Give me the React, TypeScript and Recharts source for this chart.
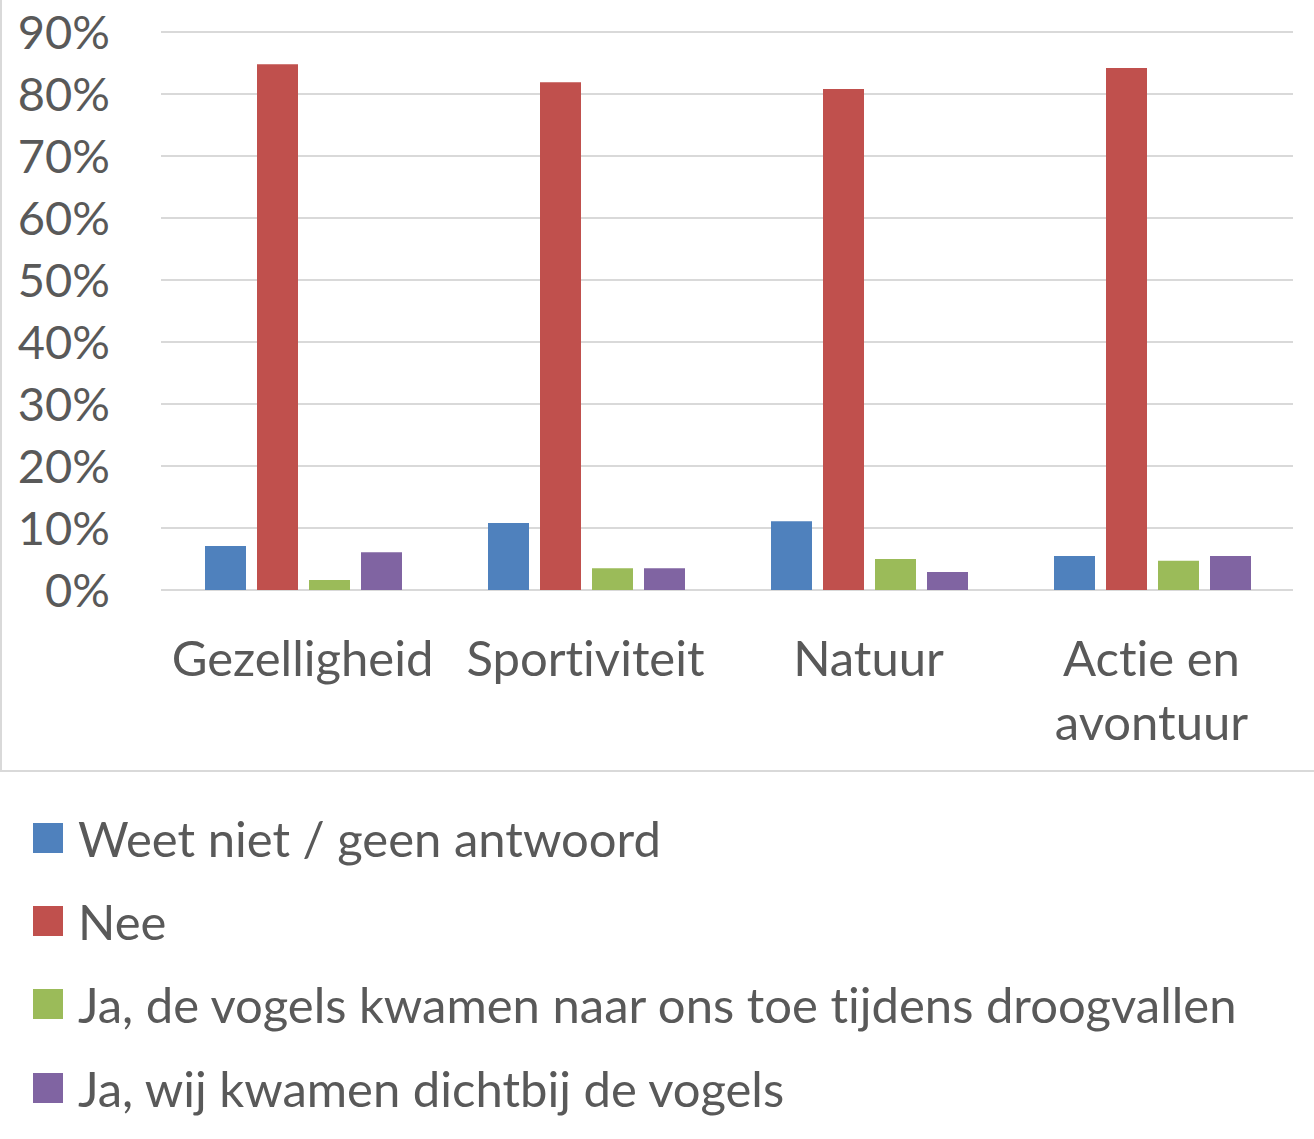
import { Bar, BarChart, CartesianGrid, Legend, XAxis, YAxis } from 'recharts'

const categories = ['Gezelligheid', 'Sportiviteit', 'Natuur', 'Actie en avontuur']

const seriesNames = [
  'Weet niet / geen antwoord',
  'Nee',
  'Ja, de vogels kwamen naar ons toe tijdens droogvallen',
  'Ja, wij kwamen dichtbij de vogels',
]

// percentages per category
const weetNiet = [7.1, 10.8, 11.1, 5.5]
const nee = [84.8, 81.9, 80.8, 84.2]
const jaVogelsKwamen = [1.6, 3.5, 5.0, 4.7]
const jaWijKwamen = [6.1, 3.5, 2.9, 5.5]

const yTicks = [0, 10, 20, 30, 40, 50, 60, 70, 80, 90]

const seriesColors = ['#4f81bd', '#c0504d', '#9bbb59', '#8064a2']
const seriesKeys = ['weetNiet', 'nee', 'jaVogelsKwamen', 'jaWijKwamen']

const textColor = '#595959'
const gridColor = '#d9d9d9'
const fontFamily = 'Lato, "Open Sans", sans-serif'
const axisFontSize = 47
const labelFontSize = 49

const data = categories.map((category, i) => ({
  category,
  weetNiet: weetNiet[i],
  nee: nee[i],
  jaVogelsKwamen: jaVogelsKwamen[i],
  jaWijKwamen: jaWijKwamen[i],
}))

// greedy word wrap, roughly what fits under one category band
function wrapLabel(label: string, maxChars = 12): string[] {
  const lines: string[] = []
  let current = ''
  for (const word of label.split(' ')) {
    const next = current ? `${current} ${word}` : word
    if (next.length > maxChars && current) {
      lines.push(current)
      current = word
    } else {
      current = next
    }
  }
  if (current) lines.push(current)
  return lines
}

type TickProps = {
  x?: number
  y?: number
  payload?: { value: string }
}

function CategoryTick({ x = 0, y = 0, payload }: TickProps) {
  const lines = wrapLabel(payload?.value ?? '')
  return (
    <text
      x={x}
      y={y}
      textAnchor="middle"
      fill={textColor}
      fontSize={labelFontSize}
      fontFamily={fontFamily}
      style={{ fontVariantLigatures: 'none' }}
    >
      {lines.map((line, i) => (
        <tspan key={line} x={x} dy={i === 0 ? '0.71em' : 64}>
          {line}
        </tspan>
      ))}
    </text>
  )
}

function renderLegend() {
  return (
    <div>
      {seriesNames.map((name, i) => (
        <div key={name} style={{ display: 'flex', alignItems: 'center', height: 83.3 }}>
          <span
            style={{
              display: 'inline-block',
              width: 30,
              height: 30,
              marginLeft: 33,
              marginRight: 15,
              background: seriesColors[i],
            }}
          />
          <span
            style={{
              color: textColor,
              fontSize: labelFontSize,
              fontFamily,
              whiteSpace: 'nowrap',
              fontVariantLigatures: 'none',
            }}
          >
            {name}
          </span>
        </div>
      ))}
    </div>
  )
}

export default function App() {
  return (
    <div
      style={{
        position: 'absolute',
        left: 0,
        top: 0,
        width: 1314,
        height: 1139,
        overflow: 'hidden',
        background: '#fff',
      }}
    >
      <div
        style={{
          position: 'absolute',
          left: 0,
          top: -20,
          width: 1400,
          height: 790,
          borderLeft: `2px solid ${gridColor}`,
          borderBottom: `2px solid ${gridColor}`,
        }}
      />
      <BarChart
        width={1314}
        height={1139}
        data={data}
        margin={{ top: 32, right: 21, left: 0, bottom: 368 }}
        barCategoryGap={44}
        barGap={11}
        style={{ position: 'absolute', left: 0, top: 0 }}
      >
        <CartesianGrid horizontal vertical={false} stroke={gridColor} strokeWidth={2} />
        <XAxis
          dataKey="category"
          height={181}
          axisLine={false}
          tickLine={false}
          tickMargin={45}
          interval={0}
          tick={<CategoryTick />}
        />
        <YAxis
          width={161}
          domain={[0, 90]}
          ticks={yTicks}
          axisLine={false}
          tickLine={false}
          tickMargin={45}
          tickFormatter={(v) => `${v}%`}
          tick={{ fill: textColor, fontSize: axisFontSize, fontFamily }}
        />
        <Legend
          layout="vertical"
          align="center"
          verticalAlign="middle"
          content={renderLegend}
          wrapperStyle={{ left: 0, top: 796, width: 1314 }}
        />
        {seriesKeys.map((key, i) => (
          <Bar
            key={key}
            dataKey={key}
            name={seriesNames[i]}
            fill={seriesColors[i]}
            isAnimationActive={false}
          />
        ))}
      </BarChart>
    </div>
  )
}
